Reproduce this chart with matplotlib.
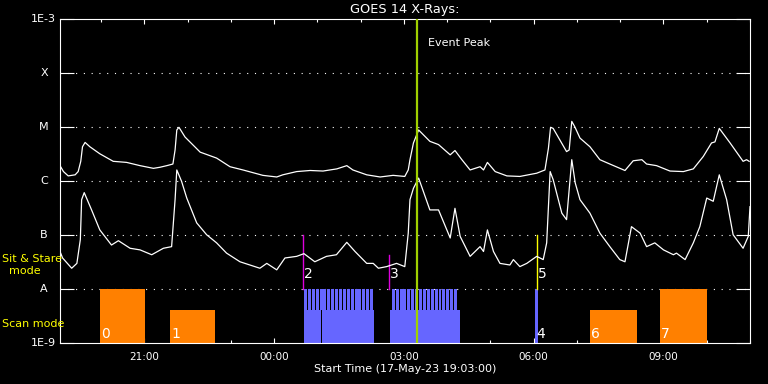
import matplotlib
matplotlib.use('Agg')
import matplotlib.pyplot as plt
from matplotlib.ticker import MultipleLocator, FuncFormatter, NullLocator
import numpy as np

# times in hours from 17-May-23 00:00 (values above 24 are on 18-May)
# fluxes as log10(W/m^2)

# GOES 14 long channel (1-8 A)
long_t = [19.05, 19.13, 19.24, 19.40, 19.47, 19.53, 19.57, 19.63, 19.74, 19.97,
          20.28, 20.59, 20.90, 21.21, 21.36, 21.52, 21.66, 21.71, 21.75, 21.80,
          21.94, 22.29, 22.67, 22.98, 23.28, 23.74, 24.06, 24.20, 24.52, 24.83,
          25.13, 25.45, 25.68, 25.82, 26.14, 26.45, 26.75, 27.02, 27.10, 27.14,
          27.22, 27.34, 27.60, 27.80, 28.07, 28.18, 28.34, 28.53, 28.76, 28.84,
          28.93, 29.11, 29.38, 29.68, 30.07, 30.26, 30.34, 30.39, 30.45, 30.76,
          30.82, 30.88, 30.95, 31.07, 31.30, 31.53, 31.76, 32.11, 32.30, 32.50,
          32.61, 32.84, 33.15, 33.46, 33.69, 33.92, 34.11, 34.19, 34.29, 34.54,
          34.84, 34.92, 34.98]
long_log = [-5.71, -5.82, -5.90, -5.88, -5.82, -5.63, -5.36, -5.28, -5.36, -5.49,
            -5.63, -5.65, -5.71, -5.76, -5.74, -5.71, -5.68, -5.42, -5.05, -5.00,
            -5.18, -5.46, -5.57, -5.73, -5.79, -5.89, -5.92, -5.88, -5.82, -5.80,
            -5.81, -5.77, -5.71, -5.79, -5.88, -5.92, -5.89, -5.91, -5.79, -5.60,
            -5.29, -5.05, -5.26, -5.32, -5.51, -5.43, -5.60, -5.79, -5.73, -5.79,
            -5.65, -5.82, -5.90, -5.91, -5.85, -5.79, -5.39, -5.00, -5.02, -5.45,
            -5.42, -4.89, -4.99, -5.20, -5.36, -5.60, -5.68, -5.80, -5.62, -5.60,
            -5.68, -5.71, -5.81, -5.82, -5.77, -5.54, -5.29, -5.27, -5.02, -5.29,
            -5.63, -5.60, -5.63]

# GOES 14 short channel (0.5-4 A)
short_t = [19.05, 19.11, 19.32, 19.44, 19.52, 19.55, 19.61, 19.78, 19.97, 20.24,
           20.40, 20.67, 20.90, 21.17, 21.44, 21.63, 21.71, 21.75, 21.86, 21.98,
           22.21, 22.44, 22.67, 22.90, 23.21, 23.44, 23.67, 23.83, 24.06, 24.25,
           24.52, 24.69, 24.94, 25.21, 25.44, 25.68, 25.87, 26.14, 26.29, 26.41,
           26.60, 26.83, 27.02, 27.10, 27.14, 27.22, 27.34, 27.60, 27.80, 28.07,
           28.18, 28.30, 28.53, 28.76, 28.84, 28.93, 29.07, 29.22, 29.45, 29.53,
           29.68, 29.84, 30.07, 30.22, 30.30, 30.38, 30.45, 30.65, 30.76, 30.88,
           30.96, 31.07, 31.30, 31.53, 31.76, 31.99, 32.11, 32.26, 32.46, 32.61,
           32.80, 33.00, 33.23, 33.30, 33.50, 33.69, 33.84, 34.00, 34.15, 34.29,
           34.46, 34.61, 34.84, 34.96, 35.00]
short_log = [-7.30, -7.42, -7.61, -7.52, -7.08, -6.34, -6.21, -6.53, -6.90, -7.18,
             -7.10, -7.24, -7.27, -7.36, -7.24, -7.21, -6.34, -5.79, -6.00, -6.31,
             -6.77, -6.99, -7.14, -7.33, -7.49, -7.55, -7.61, -7.52, -7.64, -7.42,
             -7.39, -7.34, -7.49, -7.39, -7.36, -7.13, -7.30, -7.52, -7.52, -7.61,
             -7.58, -7.52, -7.58, -6.96, -6.34, -6.13, -5.94, -6.53, -6.53, -7.05,
             -6.50, -7.02, -7.39, -7.21, -7.30, -6.90, -7.30, -7.52, -7.55, -7.45,
             -7.58, -7.52, -7.39, -7.45, -7.14, -5.82, -5.97, -6.59, -6.71, -5.60,
             -6.03, -6.34, -6.59, -6.96, -7.21, -7.45, -7.49, -6.84, -6.96, -7.21,
             -7.14, -7.27, -7.36, -7.33, -7.45, -7.14, -6.84, -6.31, -6.37, -5.88,
             -6.34, -6.99, -7.24, -7.02, -6.47]

level_exp = [-9, -8, -7, -6, -5, -4, -3]
level_labels = ['1E-9', 'A', 'B', 'C', 'M', 'X', '1E-3']

# scan mode rasters
scan_start = [19.98, 21.59, 31.30, 32.92]
scan_end = [21.02, 22.63, 32.39, 34.01]
scan_top = [1e-8, 4.2e-9, 4.2e-9, 1e-8]
scan_ids = ['0', '1', '6', '7']

# sit & stare blocks (solid base) and individual exposures (comb)
ss_start = [24.69, 25.115, 26.68, 30.03]
ss_end = [25.09, 26.31, 28.29, 30.11]
ss_top = [4.2e-9, 4.2e-9, 4.2e-9, 1e-8]
ss_exposures = [24.69, 24.78, 24.87, 24.96, 25.05, 25.14, 25.23, 25.32, 25.41,
                25.50, 25.59, 25.68, 25.77, 25.86, 25.95, 26.04, 26.13, 26.22,
                26.72, 26.81, 26.90, 26.99, 27.08, 27.17, 27.26, 27.35, 27.44,
                27.53, 27.62, 27.71, 27.80, 27.89, 27.98, 28.07, 28.16]
exposure_len = 0.068

# pointing markers (time, top of marker, colour, id)
mark_t = [24.67, 26.66, 30.08]
mark_top = [1e-7, 4.3e-8, 1e-7]
mark_color = ['#dd00dd', '#dd00dd', '#ffff00']
mark_ids = ['2', '3', '5']
block4_t = 30.05

event_peak = 27.30

W, H = 768, 384
fig = plt.figure(figsize=(W / 100, H / 100), dpi=100, facecolor='black')
ax = fig.add_axes([60 / W, 1 - 343.3 / H, 690 / W, 324 / H])
ax.set_facecolor('black')
ax.set_yscale('log')
ax.set_xlim(19.05, 35.0)
ax.set_ylim(1e-9, 1e-3)

# bars
ax.bar(scan_start, np.array(scan_top) - 1e-9, width=np.array(scan_end) - np.array(scan_start),
       bottom=1e-9, align='edge', color='#ff8000', linewidth=0, zorder=2)
ax.bar(ss_start, np.array(ss_top) - 1e-9, width=np.array(ss_end) - np.array(ss_start),
       bottom=1e-9, align='edge', color='#6666ff', linewidth=0, zorder=2)
ax.bar(ss_exposures, 1e-8 - 4.2e-9, width=exposure_len, bottom=4.2e-9,
       align='edge', color='#6666ff', linewidth=0, antialiased=False, zorder=2)

# markers
for t, top, c in zip(mark_t, mark_top, mark_color):
    ax.plot([t, t], [1e-8, top], color=c, lw=1.0, zorder=3)

# curves
ax.plot(long_t, 10 ** np.array(long_log), color='white', lw=0.9, zorder=4)
ax.plot(short_t, 10 ** np.array(short_log), color='white', lw=0.9, zorder=4)

# dotted level lines
for e in level_exp[1:-1]:
    ax.axhline(10.0 ** e, color='white', lw=0.8, linestyle=(0, (1, 6)), zorder=1)

ax.axvline(event_peak, color='#a0d000', lw=1.6, zorder=5)
ax.text(event_peak + 0.26, 3.7e-4, 'Event Peak', color='white', fontsize=8, va='center')

# ids
for t, s in zip(scan_start, scan_ids):
    ax.text(t + 0.03, 1.25e-9, s, color='white', fontsize=10, va='baseline', zorder=6)
ax.text(block4_t, 1.25e-9, '4', color='white', fontsize=10, va='baseline', zorder=6)
for t, s in zip(mark_t, mark_ids):
    ax.text(t + 0.02, 1.6e-8, s, color='white', fontsize=10, va='baseline', zorder=6)

# axes styling
for sp in ax.spines.values():
    sp.set_color('white')
    sp.set_linewidth(0.8)
ax.xaxis.set_major_locator(MultipleLocator(3))
ax.xaxis.set_minor_locator(MultipleLocator(1))
ax.xaxis.set_major_formatter(FuncFormatter(lambda h, p: '%02d:00' % (int(round(h)) % 24)))
ax.tick_params(axis='x', which='both', direction='in', top=True, colors='white',
               labelsize=7.5, pad=6)
ax.tick_params(axis='x', which='major', length=3.8, width=0.8)
ax.tick_params(axis='x', which='minor', length=2.0, width=0.8)
ax.set_yticks([10.0 ** e for e in level_exp])
ax.yaxis.set_minor_locator(NullLocator())
ax.set_yticklabels([])
ax.tick_params(axis='y', which='major', direction='in', right=True, length=10,
               width=0.8, colors='white')

ytrans = ax.get_yaxis_transform()
for e, lab in zip(level_exp, level_labels):
    if lab.startswith('1E'):
        ax.text(-4 / 690, 10.0 ** e, lab, transform=ytrans, color='white',
                fontsize=8, ha='right', va='center')
    else:
        ax.text(-16 / 690, 10.0 ** e, lab, transform=ytrans, color='white',
                fontsize=8, ha='center', va='center')

ax.set_xlabel('Start Time (17-May-23 19:03:00)', color='white', fontsize=8, labelpad=2)

fig.text(405 / W, 1 - 10 / H, 'GOES 14 X-Rays:', color='white', fontsize=9.3,
         ha='center', va='center')
fig.text(2 / W, 1 - 259 / H, 'Sit & Stare', color='#ffff00', fontsize=8, va='center')
fig.text(25 / W, 1 - 271 / H, 'mode', color='#ffff00', fontsize=8, ha='center', va='center')
fig.text(2 / W, 1 - 324 / H, 'Scan mode', color='#ffff00', fontsize=8, va='center')

fig.savefig('out.png', dpi=100, facecolor='black')
